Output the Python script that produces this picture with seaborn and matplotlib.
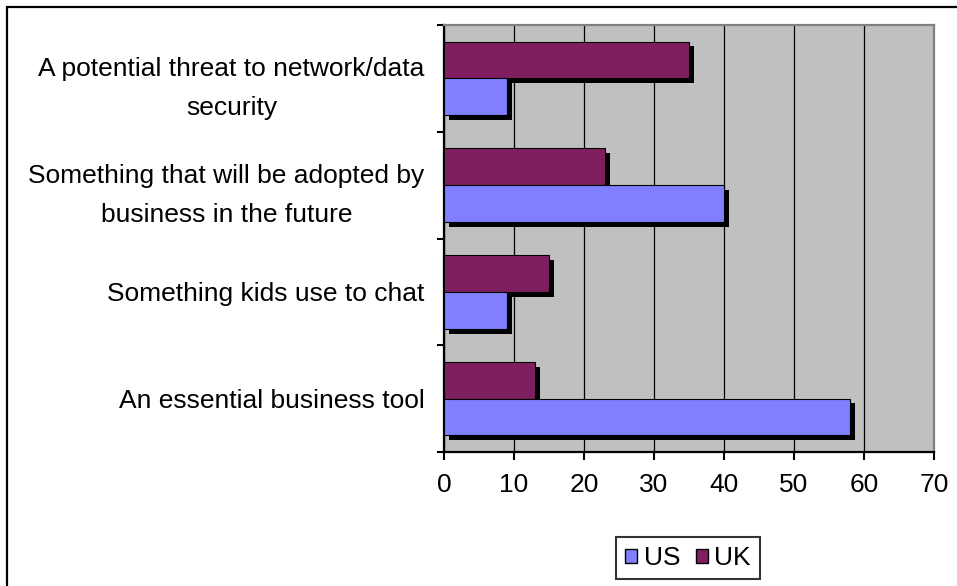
import matplotlib
matplotlib.use("Agg")
import matplotlib.pyplot as plt
import matplotlib.patheffects as pe
from matplotlib.patches import Patch, Rectangle
import seaborn as sns
import pandas as pd

categories = [
    "A potential threat to network/data\nsecurity",
    "Something that will be adopted by\nbusiness in the future",
    "Something kids use to chat",
    "An essential business tool",
]
us_values = [9, 40, 9, 58]
uk_values = [35, 23, 15, 13]
series = ["US", "UK"]
colors = {"US": "#8080FF", "UK": "#7F1F5F"}
x_ticks = [0, 10, 20, 30, 40, 50, 60, 70]

df = pd.DataFrame({
    "category": categories * 2,
    "value": us_values + uk_values,
    "country": ["US"] * len(categories) + ["UK"] * len(categories),
})

sns.set_style("white")
plt.rcParams["font.family"] = ["Liberation Sans", "DejaVu Sans"]
plt.rcParams["text.color"] = "black"
plt.rcParams["xtick.color"] = "black"
plt.rcParams["ytick.color"] = "black"

FS = 19
W, H = 957, 586
fig = plt.figure(figsize=(W / 100, H / 100), dpi=100)
ax = fig.add_axes([444 / W, 1 - 452 / H, (934 - 444) / W, (452 - 25) / H])

sns.barplot(data=df, y="category", x="value", hue="country",
            hue_order=["UK", "US"], order=categories, palette=colors,
            saturation=1, orient="h", width=0.69, edgecolor="black", linewidth=0.8,
            legend=False, ax=ax, zorder=3)

for p in ax.patches:
    p.set_path_effects([pe.SimplePatchShadow(offset=(3.5, -3.5), shadow_rgbFace="black", alpha=1.0),
                        pe.Normal()])

ax.set_facecolor("#C0C0C0")
ax.set_xlim(0, 70)
ax.set_ylim(3.5, -0.5)
ax.set_xticks(x_ticks)
ax.set_xticklabels([str(t) for t in x_ticks], fontsize=FS, color="black")
ax.set_axisbelow(True)
ax.grid(axis="x", color="black", linewidth=0.9, zorder=0)
ax.grid(axis="y", visible=False)

ax.set_yticks([-0.5, 0.5, 1.5, 2.5, 3.5])
ax.set_yticklabels([])
ax.set_yticks(range(len(categories)), minor=True)
ax.set_yticklabels(categories, minor=True, fontsize=FS, color="black",
                   multialignment="center", linespacing=1.8)
ax.tick_params(axis="y", which="major", direction="out", length=5, width=1.5, color="black", left=True)
ax.tick_params(axis="y", which="minor", length=0, pad=14)
ax.tick_params(axis="x", direction="out", length=6, width=1.5, color="black", bottom=True, pad=9)
ax.set_xlabel("")
ax.set_ylabel("")

for side in ["left", "bottom"]:
    ax.spines[side].set_color("black")
    ax.spines[side].set_linewidth(1.6)
for side in ["top", "right"]:
    ax.spines[side].set_color("#808080")
    ax.spines[side].set_linewidth(1.6)
    ax.spines[side].set_visible(True)

handles = [Patch(facecolor=colors[s], edgecolor="black", linewidth=1.0, label=s) for s in series]
leg = fig.legend(handles=handles, loc="center", bbox_to_anchor=(688 / W, 1 - 558 / H),
                 ncol=2, fontsize=FS, frameon=True, fancybox=False, handlelength=0.45,
                 handleheight=0.45, handletextpad=0.25, columnspacing=0.6, borderpad=0.35)
leg.get_frame().set_edgecolor("black")
leg.get_frame().set_linewidth(1.5)
for t in leg.get_texts():
    t.set_color("black")

fig.patches.append(Rectangle((7 / W, -0.1), 1.2, 1 - 7 / H + 0.1, transform=fig.transFigure,
                             fill=False, edgecolor="black", linewidth=1.6, clip_on=False))

fig.savefig("out.png", dpi=100)
